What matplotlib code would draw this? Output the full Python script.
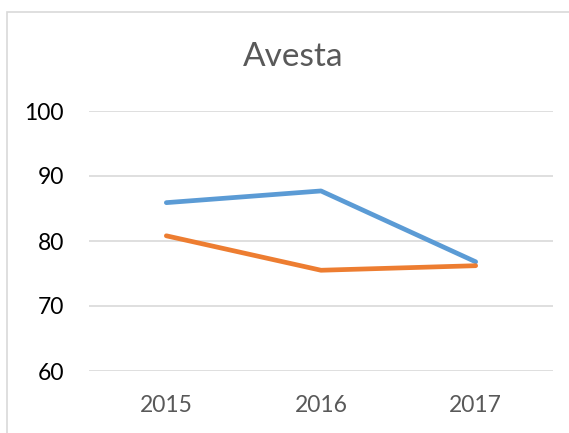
import matplotlib
matplotlib.use('Agg')
import matplotlib.pyplot as plt
from matplotlib.patches import Rectangle

years = ['2015', '2016', '2017']
blue_vals = [85.9, 87.7, 76.8]
orange_vals = [80.8, 75.5, 76.2]
yticks = [60, 70, 80, 90, 100]

plt.rcParams['font.family'] = ['Lato', 'DejaVu Sans']

fig = plt.figure(figsize=(5.69, 4.33), dpi=100)
ax = fig.add_axes([89/569, 1-371/433, (553-89)/569, (371-111)/433])

# chart border (cut off at right and bottom like the reference)
fig.patches.append(Rectangle((7/569, -0.1), 1.2, 1.1 - 12/433, transform=fig.transFigure,
                             fill=False, edgecolor='#d9d9d9', linewidth=1.2))

x = range(len(years))
ax.plot(x, blue_vals, color='#5b9bd5', linewidth=3.4, solid_capstyle='round', zorder=3)
ax.plot(x, orange_vals, color='#ed7d31', linewidth=3.4, solid_capstyle='round', zorder=3)

ax.set_xlim(-0.5, 2.5)
ax.set_ylim(60, 100)
ax.set_yticks(yticks)
ax.set_xticks(list(x))
ax.set_xticklabels(years)
ax.grid(axis='y', color='#d9d9d9', linewidth=1.2)
ax.set_axisbelow(True)
for s in ax.spines.values():
    s.set_visible(False)
ax.tick_params(axis='both', length=0)
ax.tick_params(axis='y', labelsize=16.5, colors='black', pad=18)
ax.tick_params(axis='x', labelsize=16.5, labelcolor='#595959', pad=17)

fig.text(293/569, 1-57/433, 'Avesta', ha='center', va='center', fontsize=24, color='#595959')

fig.savefig('out.png', dpi=100)
